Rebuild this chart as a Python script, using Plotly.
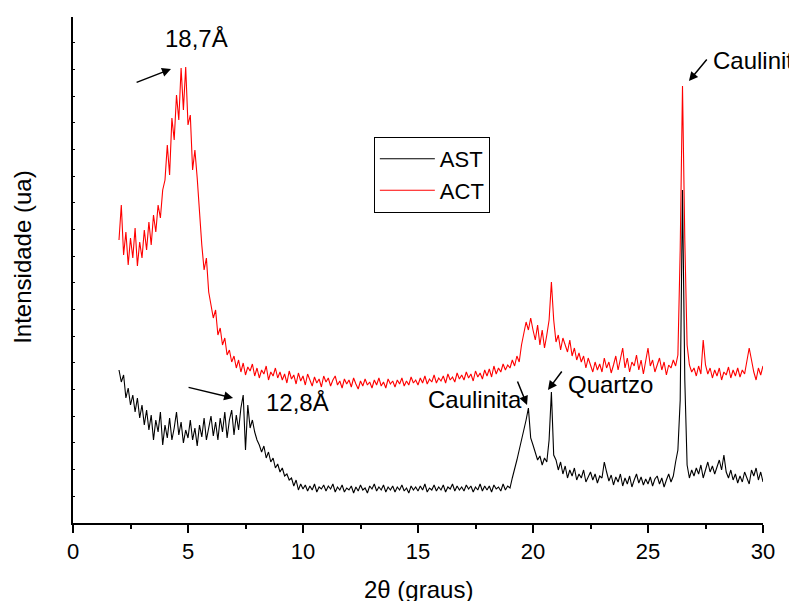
import numpy as np
import plotly.graph_objects as go

# 2-theta grid (degrees), 0.1 deg step from 2.0 to 30.0
two_theta = np.round(np.arange(2.0, 30.0001, 0.1), 1)

# Intensities (arbitrary units)
act_pix = [
    240, 205, 255, 232, 265, 238, 258, 228, 266, 242,
    258, 230, 250, 222, 245, 215, 232, 205, 218, 190,
    180, 145, 175, 118, 140, 95, 120, 68, 110, 67,
    125, 115, 170, 150, 178, 215, 245, 270, 258, 292,
    305, 318, 310, 335, 328, 345, 338, 355, 350, 362,
    356, 368, 360, 372, 363, 375, 367, 371, 364, 376,
    368, 378, 370, 374, 366, 380, 372, 376, 368, 378,
    372, 380, 374, 383, 371, 379, 375, 384, 373, 381,
    376, 385, 374, 380, 386, 377, 383, 379, 387, 376,
    382, 378, 386, 380, 376, 385, 381, 388, 379, 384,
    380, 387, 378, 384, 389, 381, 386, 379, 385, 382,
    388, 380, 385, 378, 386, 382, 388, 379, 384, 381,
    387, 380, 384, 378, 386, 381, 385, 377, 383, 380,
    385, 378, 383, 376, 384, 379, 382, 375, 383, 378,
    381, 376, 383, 374, 380, 377, 382, 373, 379, 375,
    380, 372, 378, 374, 381, 371, 377, 373, 379, 370,
    376, 369, 377, 366, 374, 368, 372, 364, 370, 365,
    368, 360, 366, 356, 362, 345, 335, 322, 330, 318,
    330, 340, 325, 345, 330, 348, 335, 320, 282, 320,
    342, 335, 350, 338, 345, 352, 340, 356, 348, 360,
    353, 362, 356, 368, 358, 366, 372, 362, 370, 364,
    372, 358, 368, 362, 373, 365, 356, 370, 360, 348,
    368, 358, 372, 362, 366, 355, 370, 360, 374, 362,
    348, 366, 360, 372, 364, 358, 370, 362, 375, 365,
    368, 360, 366, 355, 250, 86, 240, 345, 365, 372,
    368, 376, 366, 374, 340, 365, 374, 368, 378, 370,
    376, 368, 380, 372, 375, 367, 378, 370, 376, 368,
    377, 370, 374, 362, 348, 360, 372, 380, 368, 375,
    366,
]
ast_pix = [
    370, 382, 375, 398, 388, 405, 395, 412, 398, 418,
    405, 425, 410, 430, 415, 440, 420, 432, 412, 445,
    425, 438, 418, 440, 428, 412, 435, 422, 443, 430,
    438, 420, 440, 428, 446, 425, 437, 418, 440, 428,
    416, 436, 422, 440, 418, 432, 412, 438, 420, 410,
    435, 415, 430, 408, 395, 450, 405, 428, 420, 432,
    440, 445, 452, 446, 458, 452, 462, 458, 468, 464,
    472, 468, 476, 474, 480, 478, 486, 480, 490, 484,
    489, 485, 491, 486, 490, 484, 492, 487, 489, 485,
    491, 486, 489, 484, 492, 487, 490, 485, 492, 488,
    490, 486, 493, 487, 491, 485, 490, 488, 493, 486,
    489, 484, 491, 487, 490, 485, 492, 487, 490, 486,
    492, 487, 490, 485, 491, 488, 493, 486, 490, 487,
    491, 486, 490, 484, 492, 488, 490, 485, 491, 487,
    490, 485, 492, 487, 489, 484, 491, 486, 490, 487,
    491, 485, 489, 486, 492, 487, 490, 484, 491, 486,
    490, 486, 492, 485, 489, 487, 491, 484, 490, 486,
    488, 478, 470, 460, 450, 440, 432, 420, 408, 438,
    445, 452, 460, 456, 465, 458, 462, 440, 392, 455,
    460, 470, 462, 474, 466, 478, 470, 476, 468, 480,
    474, 478, 470, 482, 476, 472, 480, 474, 483, 476,
    478, 462, 472, 481, 475, 485, 477, 482, 474, 486,
    478, 484, 476, 487, 480, 474, 483, 477, 485, 479,
    484, 477, 486, 479, 476, 484, 478, 487, 480, 474,
    482, 476, 462, 450, 400, 190, 380, 465, 478, 470,
    476, 468, 474, 465, 478, 470, 462, 472, 466, 474,
    468, 460, 470, 455, 472, 478, 470, 480, 474, 483,
    476, 482, 472, 478, 484, 470, 476, 468, 480, 472,
    482,
]
BASE = 523
act = [BASE - v for v in act_pix]
ast = [BASE - v for v in ast_pix]

x_ticks = [0, 5, 10, 15, 20, 25, 30]
x_tick_labels = ["0", "5", "10", "15", "20", "25", "30"]

FONT = "Arial, Liberation Sans, sans-serif"
LBL = 24

fig = go.Figure()
fig.add_trace(go.Scatter(x=two_theta, y=act, mode="lines", name="ACT",
                         line=dict(color="#ff0000", width=1.1), legendrank=2))
fig.add_trace(go.Scatter(x=two_theta, y=ast, mode="lines", name="AST",
                         line=dict(color="#000000", width=1.1), legendrank=1))

def label(text, x, y, xanchor="center"):
    fig.add_annotation(x=x, y=y, xref="x", yref="y", text=text, showarrow=False,
                       xanchor=xanchor, yanchor="middle",
                       font=dict(family=FONT, size=LBL, color="black"))

def arrow(x0, y0, x1, y1):
    fig.add_annotation(x=x1, y=y1, ax=x0, ay=y0, xref="x", yref="y",
                       axref="x", ayref="y", text="", showarrow=True,
                       arrowhead=2, arrowsize=1.2, arrowwidth=1.5,
                       arrowcolor="black")

label("18,7Å", 5.39, 485)
arrow(2.70, 440, 4.26, 454)
label("12,8Å", 9.74, 121)
arrow(4.96, 136, 6.96, 125)
label("Caulinita", 17.48, 124)
arrow(19.30, 143, 19.74, 118)
label("Quartzo", 23.39, 139)
arrow(21.30, 153, 20.65, 133)
label("Caulinita", 27.76, 463, xanchor="left")
arrow(27.61, 465, 26.78, 442)

fig.add_annotation(x=0.5, y=-0.132, xref="paper", yref="paper",
                   text="2θ (graus)", showarrow=False, yanchor="middle",
                   font=dict(family=FONT, size=LBL, color="black"))
fig.add_annotation(x=-0.0725, y=0.526, xref="paper", yref="paper",
                   text="Intensidade (ua)", showarrow=False, textangle=-90,
                   xanchor="center", yanchor="middle",
                   font=dict(family=FONT, size=LBL, color="black"))

fig.update_layout(
    width=797, height=601,
    margin=dict(l=65, r=42, t=9, b=86),
    paper_bgcolor="white", plot_bgcolor="white",
    font=dict(family=FONT, size=22, color="black"),
    showlegend=True,
    legend=dict(x=0.436, y=0.763, xanchor="left", yanchor="top",
                bgcolor="white", bordercolor="black", borderwidth=1,
                font=dict(family=FONT, size=22, color="black"),
                itemwidth=55, tracegroupgap=0),
    xaxis=dict(range=[0, 30], tickmode="array", tickvals=x_ticks,
               ticktext=x_tick_labels, ticks="outside", ticklen=8,
               tickwidth=1.5, tickcolor="black",
               minor=dict(dtick=2.5, tick0=0, ticks="outside", ticklen=4,
                          tickcolor="black", tickwidth=1.5, showgrid=False),
               showline=True, linecolor="black", linewidth=1.5,
               showgrid=False, zeroline=False,
               tickfont=dict(family=FONT, size=22, color="black")),
    yaxis=dict(range=[0, 506], showticklabels=False, ticks="inside",
               ticklen=2, tickwidth=1, tickcolor="black", tick0=0,
               dtick=26.67, showline=True, linecolor="black", linewidth=1.5,
               showgrid=False, zeroline=False),
)

fig.write_html("out.html")
